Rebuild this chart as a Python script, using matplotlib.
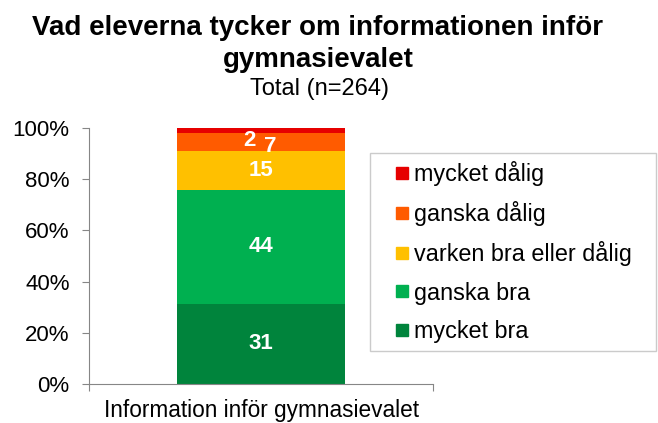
import matplotlib.pyplot as plt
from matplotlib.lines import Line2D
import numpy as np

plt.rcParams['font.family'] = ['Liberation Sans', 'DejaVu Sans']

# svar i antal procent (avrundat), visas som 100 % staplat
kategori = 'Information inför gymnasievalet'
svar = ['mycket bra', 'ganska bra', 'varken bra eller dålig', 'ganska dålig', 'mycket dålig']
andel = [31, 44, 15, 7, 2]
farger = ['#00843C', '#00B050', '#FFC000', '#FF5B00', '#E60000']

andel_norm = np.array(andel) / np.sum(andel) * 100

fig = plt.figure(figsize=(6.58, 4.23), dpi=100)
ax = fig.add_axes([89 / 658, 39 / 423, 344 / 658, 256 / 423])

botten = 0
for namn, v, vis, c in zip(svar, andel_norm, andel, farger):
    ax.bar(0, v, bottom=botten, width=0.486, color=c, label=namn)
    # små segment flyttas lite isär som i originalet
    dx, dy = 0, 0
    if namn == 'mycket dålig':
        dx, dy = -8, -7
    elif namn == 'ganska dålig':
        dx, dy = 7, -3
    ax.annotate(str(vis), (0, botten + v / 2), xytext=(dx, dy), textcoords='offset points',
                ha='center', va='center', color='white', fontsize=16, fontweight='bold')
    botten += v

ax.set_xlim(-0.5, 0.5)
ax.set_ylim(0, 100)
ax.set_yticks(np.arange(0, 101, 20))
ax.set_yticklabels([f'{t}%' for t in range(0, 101, 20)])
ax.set_xticks([-0.5, 0.5])
ax.set_xticklabels(['', ''])
ax.set_xticks([0], minor=True)
ax.set_xticklabels([kategori], minor=True)

grå = '#868686'
for s in ['top', 'right']:
    ax.spines[s].set_visible(False)
for s in ['left', 'bottom']:
    ax.spines[s].set_color(grå)
ax.tick_params(axis='both', which='major', color=grå, length=5, labelsize=16, pad=9)
ax.tick_params(axis='x', which='minor', length=0, labelsize=16.3, pad=11)

# legenden i omvänd ordning
handtag = [Line2D([], [], marker='s', linestyle='', markersize=9, color=c)
           for c in farger[::-1]]
leg = fig.legend(handtag, svar[::-1], loc='upper left', mode='expand',
                 bbox_to_anchor=(370 / 658, 1 - 153 / 423, 286 / 658, 0), fontsize=16.8,
                 frameon=True, fancybox=False, edgecolor='#BFBFBF',
                 handlelength=2.05, handletextpad=-0.5, labelspacing=0.65,
                 borderpad=0.35, borderaxespad=0)
leg.get_frame().set_linewidth(1)

fig.text(318 / 658, 1 - 35 / 423, 'Vad eleverna tycker om informationen inför',
         ha='center', va='baseline', fontsize=20, fontweight='bold')
fig.text(318 / 658, 1 - 67 / 423, 'gymnasievalet',
         ha='center', va='baseline', fontsize=20, fontweight='bold')
fig.text(320 / 658, 1 - 95 / 423, 'Total (n=264)',
         ha='center', va='baseline', fontsize=17)

fig.savefig('out.png', dpi=100)
